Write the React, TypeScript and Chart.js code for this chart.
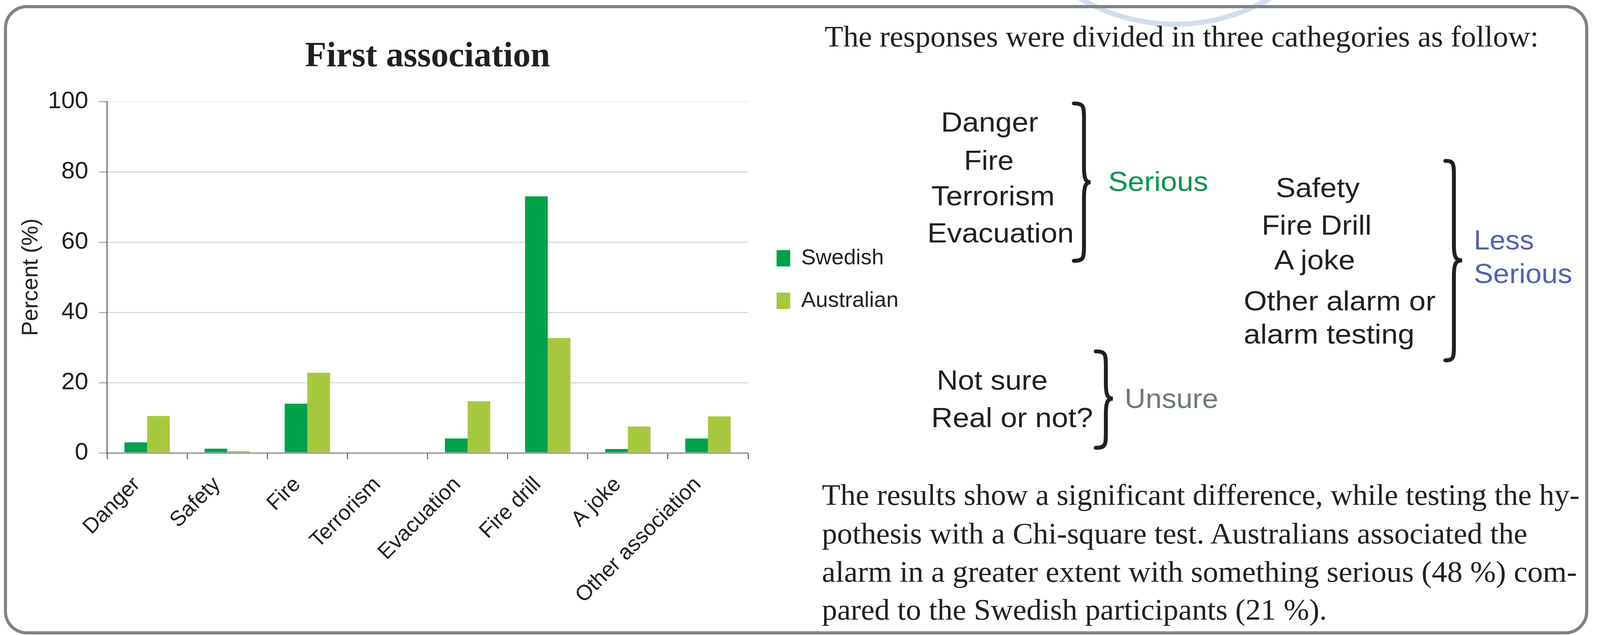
import React, { useEffect, useRef } from "react";
import { Chart, registerables } from "chart.js";

Chart.register(...registerables);

// ---------- chart data ----------
const categories = ["Danger", "Safety", "Fire", "Terrorism", "Evacuation", "Fire drill", "A joke", "Other association"];
const seriesNames = ["Swedish", "Australian"];
const swedish = [3, 1.2, 14, 0, 4.1, 73, 1.1, 4.1];
const australian = [10.5, 0.5, 22.8, 0, 14.7, 32.7, 7.5, 10.4];
const seriesColors = ["#00a14b", "#a7c83e"];
const yMin = 0;
const yMax = 100;
const yStep = 20;
const chartTitle = "First association";
const yAxisTitle = "Percent (%)";

// ---------- side panel text ----------
const introText = "The responses were divided in three cathegories as follow:";
const seriousItems = ["Danger", "Fire", "Terrorism", "Evacuation"];
const lessSeriousItems = ["Safety", "Fire Drill", "A joke", "Other alarm or", "alarm testing"];
const unsureItems = ["Not sure", "Real or not?"];
const seriousLabel = ["Serious"];
const lessSeriousLabel = ["Less", "Serious"];
const unsureLabel = ["Unsure"];
const conclusionLines = [
  "The results show a significant difference, while testing the hy-",
  "pothesis with a Chi-square test. Australians associated the",
  "alarm in a greater extent with something serious (48 %) com-",
  "pared to the Swedish participants (21 %).",
];

// ---------- layout (page pixels) ----------
const INK = "#231f20";
const SANS = "'Liberation Sans', Arial, sans-serif";
const SERIF = "'Liberation Serif', 'Times New Roman', serif";

const introPos = { x: 2111, y: 119, w: 1828 };
const seriousPos = [
  { x: 2409, y: 337, w: 249 },
  { x: 2468, y: 435, w: 127 },
  { x: 2384, y: 526, w: 316 },
  { x: 2374, y: 621, w: 375 },
];
const lessSeriousPos = [
  { x: 3266, y: 505, w: 215 },
  { x: 3230, y: 601, w: 281 },
  { x: 3262, y: 690, w: 207 },
  { x: 3184, y: 795, w: 491 },
  { x: 3184, y: 880, w: 437 },
];
const unsurePos = [
  { x: 2398, y: 998, w: 284 },
  { x: 2384, y: 1094, w: 414 },
];
const seriousLabelPos = [{ x: 2837, y: 489, w: 256 }];
const lessLabelPos = [
  { x: 3773, y: 639, w: 154 },
  { x: 3773, y: 725, w: 252 },
];
const unsureLabelPos = [{ x: 2879, y: 1045, w: 240 }];
const conclusionPos = [
  { x: 2104, y: 1293, w: 1940 },
  { x: 2104, y: 1392, w: 1806 },
  { x: 2104, y: 1490, w: 1933 },
  { x: 2104, y: 1587, w: 1293 },
];

function bracePath(x0: number, xs: number, xt: number, yTop: number, yTip: number, yBot: number) {
  const r = 40;
  return `M ${x0} ${yTop} C ${xs} ${yTop}, ${xs} ${yTop + 8}, ${xs} ${yTop + r} L ${xs} ${yTip - r} C ${xs} ${yTip - 10}, ${xs + 4} ${yTip}, ${xt} ${yTip} C ${xs + 4} ${yTip}, ${xs} ${yTip + 10}, ${xs} ${yTip + r} L ${xs} ${yBot - r} C ${xs} ${yBot - 8}, ${xs} ${yBot}, ${x0} ${yBot}`;
}

function TextLines(props: { lines: string[]; pos: { x: number; y: number; w: number }[]; family: string; size: number; color: string }) {
  return (
    <>
      {props.lines.map((t, i) => (
        <text
          key={i}
          x={props.pos[i].x}
          y={props.pos[i].y}
          textLength={props.pos[i].w}
          lengthAdjust="spacingAndGlyphs"
          fontFamily={props.family}
          fontSize={props.size}
          fill={props.color}
        >
          {t}
        </text>
      ))}
    </>
  );
}

const CANVAS_LEFT = 20;
const CANVAS_TOP = 30;
const CANVAS_W = 2300;
const CANVAS_H = 1580;
const AREA_RIGHT = 1895; // chart-area right edge inside the canvas
const LEGEND_FONT = 56;
const LEGEND_BOX_W = 35;
const LEGEND_BOX_H = 42;
const LEGEND_PAD = 53;
const LEGEND_SHIFT_X = 20;
const LEGEND_SHIFT_Y = 6;

export default function App() {
  const ref = useRef<HTMLCanvasElement>(null);

  useEffect(() => {
    document.body.style.margin = "0";
    const canvas = ref.current as HTMLCanvasElement;

    // width the legend will take, so the plot area ends where the reference's does
    const mctx = document.createElement("canvas").getContext("2d") as CanvasRenderingContext2D;
    mctx.font = `${LEGEND_FONT}px ${SANS}`;
    const textW = Math.max(...seriesNames.map((n) => mctx.measureText(n).width));
    const legendW = LEGEND_PAD + LEGEND_BOX_W + LEGEND_FONT / 2 + textW + 10;
    const padRight = Math.max(0, CANVAS_W - AREA_RIGHT - legendW);

    const chart = new Chart(canvas, {
      type: "bar",
      data: {
        labels: categories,
        datasets: [
          {
            label: seriesNames[0],
            data: swedish,
            backgroundColor: seriesColors[0],
            borderWidth: 0,
            categoryPercentage: 0.566,
            barPercentage: 1,
          },
          {
            label: seriesNames[1],
            data: australian,
            backgroundColor: seriesColors[1],
            borderWidth: 0,
            categoryPercentage: 0.566,
            barPercentage: 1,
          },
        ],
      },
      options: {
        animation: false,
        responsive: false,
        devicePixelRatio: 1,
        layout: { padding: { left: 0, right: padRight, top: 0, bottom: 0 } },
        plugins: {
          title: {
            display: true,
            text: chartTitle,
            fullSize: false,
            color: INK,
            font: { family: SERIF, size: 90, weight: "bold", lineHeight: 1.2 },
            padding: { top: 63, bottom: 59 },
          },
          legend: {
            position: "right",
            fullSize: false,
            labels: {
              boxWidth: LEGEND_BOX_W,
              boxHeight: LEGEND_BOX_H,
              padding: LEGEND_PAD,
              color: INK,
              font: { family: SANS, size: LEGEND_FONT },
            },
          },
          tooltip: { enabled: false },
        },
        scales: {
          x: {
            grid: {
              display: true,
              drawOnChartArea: false,
              drawTicks: true,
              tickLength: 16,
              tickColor: "#333333",
              tickWidth: 2,
              offset: true,
            },
            border: { display: true, color: "#8c8c8c", width: 3 },
            ticks: {
              autoSkip: false,
              minRotation: 45,
              maxRotation: 45,
              padding: 33,
              labelOffset: -26,
              color: INK,
              font: { family: SANS, size: 55 },
            },
            afterFit: (s: any) => {
              s.height = 450;
            },
          },
          y: {
            min: yMin,
            max: yMax,
            ticks: {
              stepSize: yStep,
              padding: 28,
              color: INK,
              font: { family: SANS, size: 62 },
            },
            grid: {
              color: (ctx: any) =>
                ctx.tick && ctx.tick.value === yMin ? "#8c8c8c" : ctx.tick && ctx.tick.value === yMax ? "#f2f2f2" : "#dadada",
              lineWidth: 3,
              tickLength: 20,
              tickColor: "#8c8c8c",
              tickWidth: 2,
            },
            border: { display: true, color: "#333333", width: 2 },
            title: {
              display: true,
              text: yAxisTitle,
              color: INK,
              font: { family: SANS, size: 57, lineHeight: 1.2 },
              padding: { top: 26, bottom: 0 },
            },
            afterFit: (s: any) => {
              s.width = 254;
            },
          },
        },
      },
      plugins: [
        {
          id: "legendShift",
          afterLayout(c: any) {
            if (c.legend) {
              c.legend.left += LEGEND_SHIFT_X;
              c.legend.right += LEGEND_SHIFT_X;
              c.legend.top += LEGEND_SHIFT_Y;
              c.legend.bottom += LEGEND_SHIFT_Y;
            }
          },
        },
      ],
    } as any);
    return () => chart.destroy();
  }, []);

  return (
    <div style={{ position: "absolute", left: 0, top: 0, width: 4104, height: 1629, overflow: "hidden", background: "#ffffff" }}>
      <svg width={4104} height={1629} style={{ position: "absolute", left: 0, top: 0 }}>
        <circle cx={3008} cy={-418} r={480} fill="none" stroke="#d5dbef" strokeWidth={13} />
        <rect x={14} y={17} width={4048} height={1604} rx={55} ry={55} fill="none" stroke="#7b8487" strokeWidth={8} />
        <text x={introPos.x} y={introPos.y} textLength={introPos.w} lengthAdjust="spacingAndGlyphs" fontFamily={SERIF} fontSize={76} fill={INK}>
          {introText}
        </text>
        <TextLines lines={seriousItems} pos={seriousPos} family={SANS} size={70} color={INK} />
        <TextLines lines={lessSeriousItems} pos={lessSeriousPos} family={SANS} size={70} color={INK} />
        <TextLines lines={unsureItems} pos={unsurePos} family={SANS} size={70} color={INK} />
        <TextLines lines={seriousLabel} pos={seriousLabelPos} family={SANS} size={70} color="#00964b" />
        <TextLines lines={lessSeriousLabel} pos={lessLabelPos} family={SANS} size={70} color="#5263ad" />
        <TextLines lines={unsureLabel} pos={unsureLabelPos} family={SANS} size={70} color="#6e797d" />
        <path d={bracePath(2749, 2775, 2792, 265, 467, 668)} fill="none" stroke={INK} strokeWidth={10} strokeLinecap="round" />
        <path d={bracePath(2805, 2831, 2849, 900, 1021, 1147)} fill="none" stroke={INK} strokeWidth={10} strokeLinecap="round" />
        <path d={bracePath(3700, 3722, 3743, 412, 667, 923)} fill="none" stroke={INK} strokeWidth={10} strokeLinecap="round" />
        <TextLines lines={conclusionLines} pos={conclusionPos} family={SERIF} size={76} color={INK} />
      </svg>
      <canvas
        ref={ref}
        width={CANVAS_W}
        height={CANVAS_H}
        style={{ position: "absolute", left: CANVAS_LEFT, top: CANVAS_TOP, width: CANVAS_W, height: CANVAS_H }}
      />
    </div>
  );
}
